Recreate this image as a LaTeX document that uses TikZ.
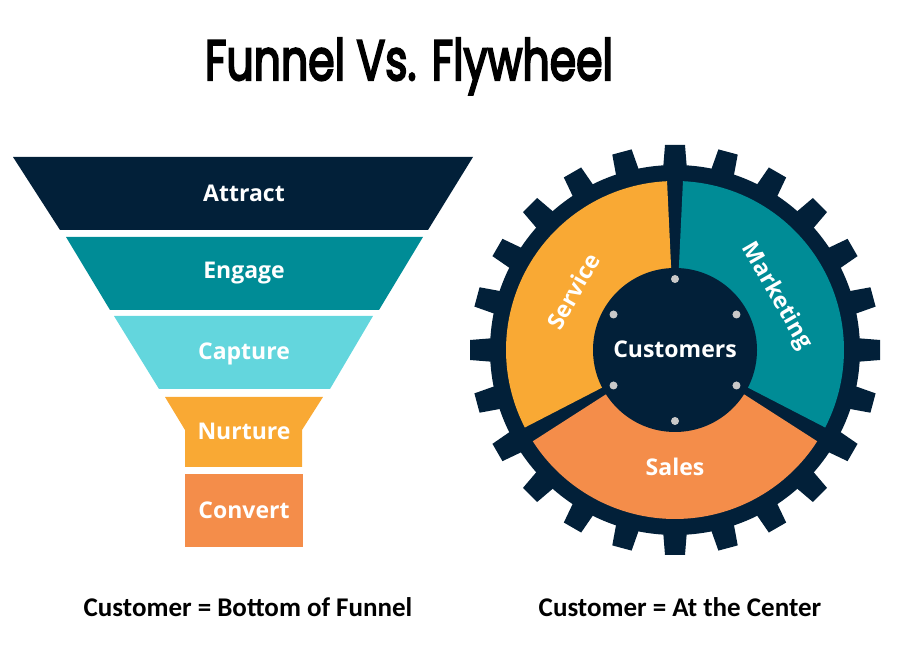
\documentclass[tikz,border=0pt]{standalone}
\usepackage{fontspec}
\setmainfont{Open Sans}
\newfontfamily\capfont{Carlito}
\newfontfamily\titlefont[FakeBold=4]{Poppins}
\definecolor{navy}{HTML}{022039}
\definecolor{tealseg}{HTML}{008C96}
\definecolor{cyanseg}{HTML}{63D6DD}
\definecolor{yellowseg}{HTML}{F9A934}
\definecolor{orangeseg}{HTML}{F48D4A}
\definecolor{dotgrey}{HTML}{C9C9C9}

\begin{document}
\begin{tikzpicture}[x=1pt,y=1pt]
\tikzset{lbl/.style={text=white,font=\fontsize{23}{25}\selectfont\bfseries,inner sep=0pt,text height=16pt,text depth=0pt}}
\tikzset{caption/.style={font=\capfont\fontsize{27}{29}\selectfont\bfseries,anchor=base,inner sep=0pt}}
\useasboundingbox (0,0) rectangle (900,660);
\node[anchor=base,inner sep=0pt] (title) at (409,580) {\resizebox{408pt}{42pt}{\titlefont Funnel Vs. Flywheel}};

% funnel
\fill[navy] (13,503) -- (473,503) -- (428,430) -- (60,430) -- cycle;
\fill[tealseg] (66,423) -- (423,423) -- (379,350) -- (110,350) -- cycle;
\fill[cyanseg] (114,344) -- (373,344) -- (330,271) -- (159,271) -- cycle;
\fill[yellowseg] (165,263) -- (323,263) -- (302,230) -- (302,193) -- (185,193) -- (185,230) -- cycle;
\fill[orangeseg] (185,186) rectangle (303,113);
\node[lbl] (attract) at (244,466) {Attract};
\node[lbl] (engage) at (244,389) {Engage};
\node[lbl] (capture) at (244,308) {Capture};
\node[lbl] (nurture) at (244,228) {Nurture};
\node[lbl] (convert) at (244,149) {Convert};

% flywheel
\begin{scope}[shift={(675,310)}]
\fill[navy] (0,0) circle[radius=185];
\foreach \a in {0,15,...,345}
  \fill[navy,rotate=\a] (180,-12) -- (205,-10) -- (205,10) -- (180,12) -- cycle;
\fill[tealseg] (-27.3:169) arc[start angle=-27.3,end angle=87.3,radius=169] -- (87.3:60) arc[start angle=87.3,end angle=-27.3,radius=60] -- cycle;
\fill[yellowseg] (92.7:169) arc[start angle=92.7,end angle=207.3,radius=169] -- (207.3:60) arc[start angle=207.3,end angle=92.7,radius=60] -- cycle;
\fill[orangeseg] (212.7:169) arc[start angle=212.7,end angle=327.3,radius=169] -- (327.3:60) arc[start angle=327.3,end angle=212.7,radius=60] -- cycle;
\fill[navy] (0,0) circle[radius=82];
\foreach \a in {30,90,...,330}
  \fill[dotgrey] (\a:71) circle[radius=4];
\node[lbl,rotate=60] (service) at (150:117) {Service};
\node[lbl,rotate=-60] (marketing) at (28:117) {Marketing};
\node[lbl] (sales) at (270:118) {Sales};
\node[lbl] (customers) at (0,0) {Customers};
\end{scope}

\node[caption] (funnelcap) at (248,43) {Customer = Bottom of Funnel};
\node[caption] (wheelcap) at (680,43) {Customer = At the Center};
\end{tikzpicture}
\end{document}
